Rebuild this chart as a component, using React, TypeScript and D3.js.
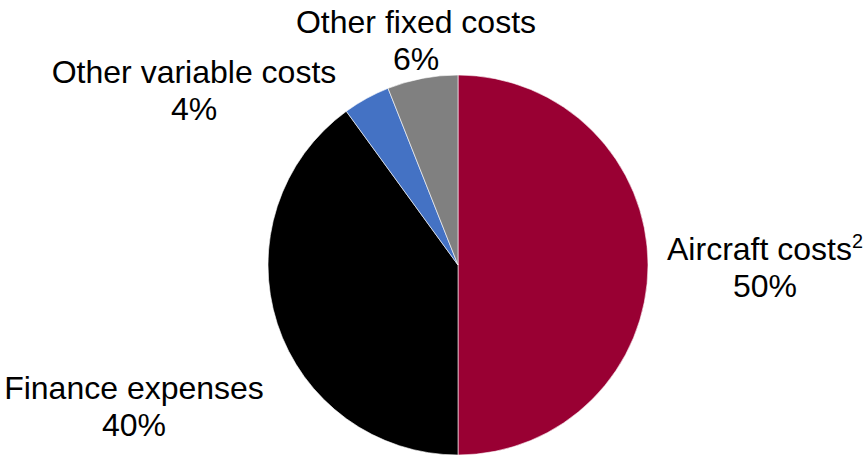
import React from "react";
import * as d3 from "d3";

const categories = ["Aircraft costs", "Finance expenses", "Other variable costs", "Other fixed costs"];
const values = [50, 40, 4, 6];
const valueLabels = ["50%", "40%", "4%", "6%"];
const superscripts = ["2", "", "", ""];
const colors = ["#990033", "#000000", "#4472C4", "#808080"];

const W = 866;
const H = 456;
const CX = 458;
const CY = 265;
const R = 190;
const FONT = 32;
const LINE = 37;
// label text centers (x) and first-line baselines (y)
const labelLayout = [
  { x: 765, y: 260 },
  { x: 134, y: 399 },
  { x: 194, y: 83 },
  { x: 416, y: 33 },
];

export default function App() {
  const pie = d3.pie<number>().sort(null).value((d) => d)(values);
  const arc = d3.arc<d3.PieArcDatum<number>>().innerRadius(0).outerRadius(R);
  return (
    <svg
      width={W}
      height={H}
      style={{ position: "absolute", left: 0, top: 0, display: "block", background: "#fff" }}
      fontFamily="'Liberation Sans', Arial, sans-serif"
    >
      <g transform={`translate(${CX},${CY})`}>
        {pie.map((p, i) => (
          <path key={i} d={arc(p) || ""} fill={colors[i]} stroke="#ffffff" strokeWidth={0.6} />
        ))}
      </g>
      {categories.map((c, i) => (
        <text key={i} textAnchor="middle" fontSize={FONT} fill="#000">
          <tspan x={labelLayout[i].x} y={labelLayout[i].y}>
            {c}
            {superscripts[i] ? (
              <tspan fontSize={FONT * 0.62} dy={-FONT * 0.36}>{superscripts[i]}</tspan>
            ) : null}
          </tspan>
          <tspan x={labelLayout[i].x} y={labelLayout[i].y + LINE}>{valueLabels[i]}</tspan>
        </text>
      ))}
    </svg>
  );
}
